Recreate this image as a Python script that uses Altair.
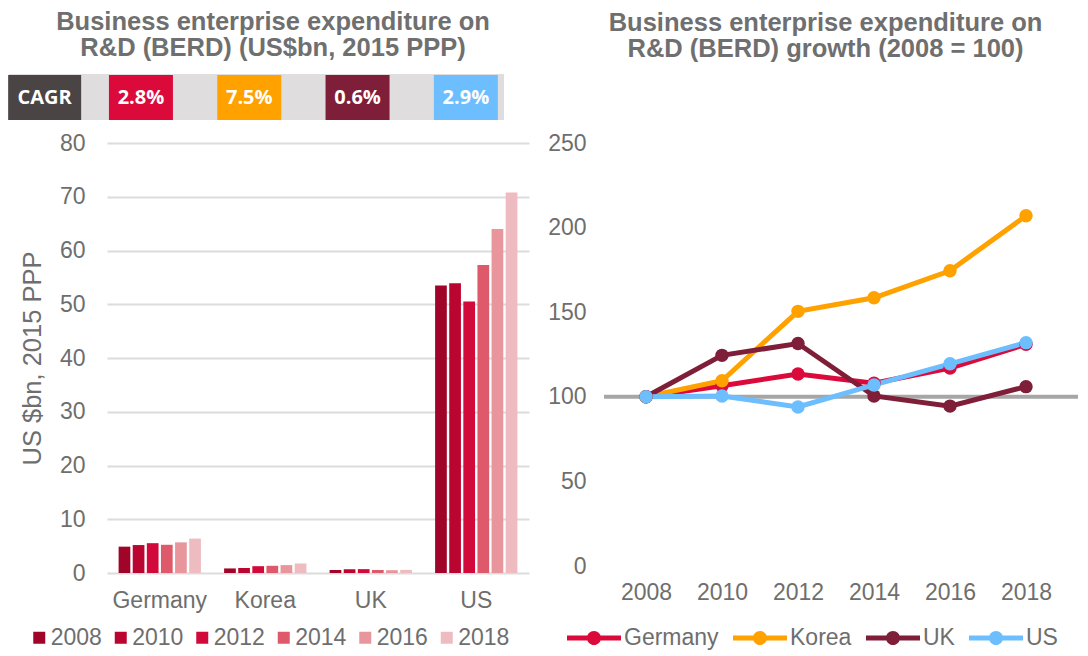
import altair as alt
import pandas as pd

countries = ["Germany", "Korea", "UK", "US"]
years = ["2008", "2010", "2012", "2014", "2016", "2018"]

# BERD, US$bn 2015 PPP (left panel)
berd_germany = [4.9, 5.2, 5.55, 5.25, 5.7, 6.4]
berd_korea = [0.85, 0.93, 1.27, 1.34, 1.47, 1.75]
berd_uk = [0.55, 0.68, 0.72, 0.56, 0.52, 0.58]
berd_us = [53.5, 53.9, 50.5, 57.3, 64.0, 70.8]

# BERD growth index, 2008 = 100 (right panel)
growth_germany = [100, 106.5, 113.5, 108, 117, 131]
growth_korea = [100, 109.5, 150.5, 158.5, 174.5, 207]
growth_uk = [100, 124.5, 131.5, 100.5, 94.5, 106]
growth_us = [100, 100.5, 94, 107, 119.5, 132]

cagr_labels = ["CAGR", "2.8%", "7.5%", "0.6%", "2.9%"]
cagr_colors = ["#4a4544", "#dc0a3b", "#ffa200", "#7f1e38", "#6cbeff"]

year_colors = ["#a00429", "#bb0531", "#d10a3b", "#de5a6a", "#e8969b", "#eebcc0"]
country_colors = ["#dc0a3b", "#ffa200", "#7f1e38", "#6cbeff"]

FONT = "Liberation Sans"
GREY_TXT = "#6e6e6e"
TITLE_COL = "#6f6f6f"

berd = {"Germany": berd_germany, "Korea": berd_korea, "UK": berd_uk, "US": berd_us}
growth = {"Germany": growth_germany, "Korea": growth_korea, "UK": growth_uk, "US": growth_us}

bar_df = pd.DataFrame(
    [{"country": c, "year": y, "value": v} for c in countries for y, v in zip(years, berd[c])]
)
line_df = pd.DataFrame(
    [{"country": c, "year": y, "value": v} for c in countries for y, v in zip(years, growth[c])]
)
strip_df = pd.DataFrame({"label": cagr_labels, "fill": cagr_colors})

# ---------------- left panel ----------------
W1, H1 = 422, 430

strip_x = alt.X("label:N", sort=cagr_labels,
                scale=alt.Scale(domain=cagr_labels, range=[-128.5, 413], paddingInner=0, paddingOuter=0),
                axis=None)

strip_bg = alt.Chart(strip_df).transform_filter("datum.label == 'CAGR'").mark_rect(
    color="#dfdddd").encode(
    x=alt.value(-98), x2=alt.value(397), y=alt.value(-69), y2=alt.value(-23))

head_box = alt.Chart(strip_df).transform_filter("datum.label == 'CAGR'").mark_bar(
    width=73, xOffset=12).encode(
    x=strip_x, y=alt.value(-68), y2=alt.value(-23), color=alt.Color("fill:N", scale=None))

head_txt = alt.Chart(strip_df).transform_filter("datum.label == 'CAGR'").mark_text(
    font="Open Sans", fontWeight="bold", fontSize=20, color="white", baseline="middle",
    dx=12).encode(x=strip_x, y=alt.value(-45.5), text="label:N")

cell_box = alt.Chart(strip_df).transform_filter("datum.label != 'CAGR'").mark_bar(
    width=64).encode(
    x=strip_x, y=alt.value(-68), y2=alt.value(-23), color=alt.Color("fill:N", scale=None))

cell_txt = alt.Chart(strip_df).transform_filter("datum.label != 'CAGR'").mark_text(
    font="Open Sans", fontWeight="bold", fontSize=20, color="white", baseline="middle"
).encode(x=strip_x, y=alt.value(-45.5), text="label:N")

bars = alt.Chart(bar_df).mark_bar().encode(
    x=alt.X("country:N", sort=countries,
            scale=alt.Scale(paddingInner=0.22, paddingOuter=0.11),
            axis=alt.Axis(title=None, labelAngle=0, labelPadding=16, grid=False)),
    xOffset=alt.XOffset("year:N", sort=years, scale=alt.Scale(paddingInner=0.17, paddingOuter=0)),
    y=alt.Y("value:Q", scale=alt.Scale(domain=[0, 80], nice=False),
            axis=alt.Axis(values=list(range(0, 81, 10)), title="US $bn, 2015 PPP",
                          titleFontSize=25.5, titleFont=FONT, titleFontWeight="normal",
                          titleColor=GREY_TXT, titlePadding=14, labelPadding=22)),
    color=alt.Color("year:N", sort=years, scale=alt.Scale(domain=years, range=year_colors),
                    legend=alt.Legend(title=None, orient="none", direction="horizontal",
                                      legendX=-80.5, legendY=483, symbolType="square",
                                      symbolSize=144, symbolOffset=1.25, labelOffset=0,
                                      columnPadding=5.5, symbolStrokeWidth=0)),
)

left = alt.layer(strip_bg, head_box, head_txt, cell_box, cell_txt, bars).resolve_scale(
    x="independent").properties(
    width=W1, height=H1,
    title=alt.TitleParams(["Business enterprise expenditure on", "R&D (BERD) (US$bn, 2015 PPP)"],
                          font=FONT, fontSize=25.5, fontWeight="bold", color=TITLE_COL,
                          anchor="middle", frame="group", dx=-45, offset=13, lineHeight=25.5))

# ---------------- right panel ----------------
W2, H2 = 456, 423

# legend symbol: a thick line with a dot in the middle ([-1, 1] box = 54px at size 2916)
legend_path = ("M-1,-0.093H1V0.093H-1Z "
               "M0.26,0A0.26,0.26 0 1,1 -0.26,0A0.26,0.26 0 1,1 0.26,0Z")

base = alt.Chart(line_df).encode(
    x=alt.X("year:O", sort=years, scale=alt.Scale(type="point", padding=0.5),
            axis=alt.Axis(title=None, labelAngle=0, labelPadding=15, grid=False)),
    y=alt.Y("value:Q", scale=alt.Scale(domain=[0, 250], nice=False),
            axis=alt.Axis(values=[0, 50, 100, 150, 200, 250], title=None, labelPadding=22)),
    color=alt.Color("country:N", sort=countries,
                    scale=alt.Scale(domain=countries, range=country_colors),
                    legend=alt.Legend(title=None, orient="none", direction="horizontal",
                                      legendX=-41, legendY=468, symbolType=legend_path,
                                      symbolSize=2916, labelOffset=3, columnPadding=14,
                                      symbolStrokeWidth=0)),
)

ref_line = alt.Chart(strip_df).transform_filter("datum.label == 'CAGR'").mark_rule(
    color="#a6a6a6", strokeWidth=4).encode(
    y=alt.datum(100), x=alt.value(-4), x2=alt.value(470))

lines = base.mark_line(strokeWidth=5)
points = base.mark_point(filled=True, size=180, opacity=1)

right = alt.layer(ref_line, lines, points).properties(
    width=W2, height=H2,
    title=alt.TitleParams(["Business enterprise expenditure on", "R&D (BERD) growth (2008 = 100)"],
                          font=FONT, fontSize=25.5, fontWeight="bold", color=TITLE_COL,
                          anchor="middle", frame="group", dx=-10.5, offset=70, lineHeight=25.5))

chart = alt.hconcat(left, right, spacing=18).resolve_scale(color="independent").properties(
    padding={"left": 0, "top": 2, "right": 0, "bottom": 0},
    background="white",
).configure_view(stroke=None).configure_axis(
    labelFont=FONT, labelFontSize=23, labelColor=GREY_TXT,
    gridColor="#dcdcdc", gridWidth=2, domain=False, ticks=False,
).configure_legend(
    labelFont=FONT, labelFontSize=23, labelColor=GREY_TXT,
)

chart.save("out.html", embed_options={"renderer": "svg", "actions": False})
